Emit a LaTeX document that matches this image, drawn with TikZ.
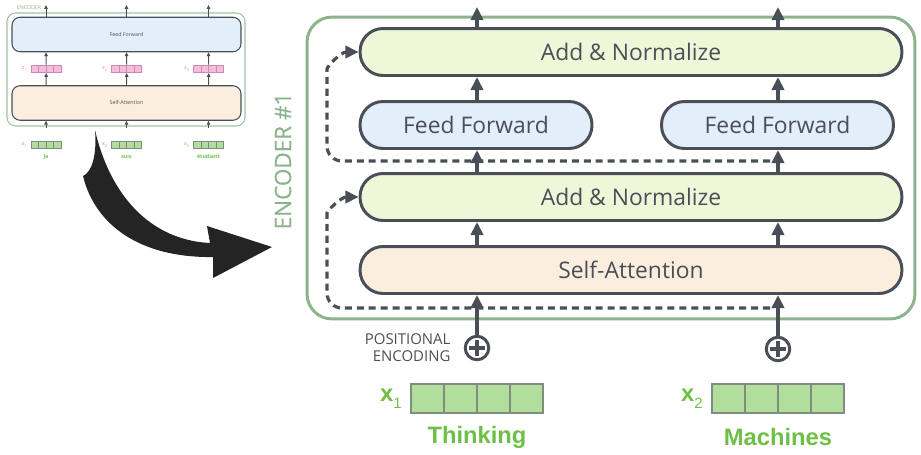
\documentclass[tikz,border=0pt]{standalone}
\usepackage{fontspec}
\setmainfont{Open Sans}
\newfontfamily\wordfont{Liberation Sans}
\usepackage{xcolor}
\usepackage{tikz}
\usetikzlibrary{arrows.meta}
\usetikzlibrary{positioning}
\definecolor{dark}{HTML}{4A4F57}
\definecolor{addfill}{HTML}{EEF8D9}
\definecolor{fffill}{HTML}{E3EEFB}
\definecolor{safill}{HTML}{FBEEDF}
\definecolor{encgreen}{HTML}{8DB38D}
\definecolor{wordgreen}{HTML}{6DBF46}
\definecolor{cellfill}{HTML}{B1DD9D}
\definecolor{cellline}{HTML}{7F8C7F}
\definecolor{zfill}{HTML}{F4BCDD}
\definecolor{zline}{HTML}{C98BB0}
\definecolor{zpink}{HTML}{E277B6}
\tikzset{
    block/.style = {align=center, inner sep=0pt, text centered, rectangle, draw=dark, text=dark},
    add_node/.style = {block, fill=addfill, line width=1.7pt, minimum width=10.84cm, minimum height=0.94cm, rounded corners=0.46cm, font=\fontsize{13}{15}\selectfont},
    ff_node/.style = {block, fill=fffill, line width=1.7pt, minimum width=4.64cm, minimum height=0.94cm, rounded corners=0.46cm, font=\fontsize{13}{15}\selectfont},
    sa_node/.style = {add_node, fill=safill},
    enc_box/.style = {rectangle, draw=encgreen, line width=1.7pt, rounded corners=0.5cm, minimum width=12.16cm, minimum height=6.04cm},
    enc_label/.style = {text=encgreen, inner sep=0pt, font=\fontsize{12.8}{14}\selectfont\addfontfeatures{FakeBold=0.4}},
    plus_node/.style = {circle, draw=dark, line width=1.7pt, minimum size=0.47cm, inner sep=0pt, fill=white,
        path picture={\draw[dark, line width=1.8pt] (path picture bounding box.center) ++(-0.16cm,0) -- ++(0.32cm,0)
            (path picture bounding box.center) ++(0,-0.16cm) -- ++(0,0.32cm);}},
    pos_label/.style = {align=right, inner sep=0pt, text=dark, font=\fontsize{8.5}{9.6}\selectfont},
    cell/.style = {rectangle, draw=cellline, fill=cellfill, line width=0.6pt, minimum width=0.66cm, minimum height=0.58cm, inner sep=0pt},
    vec_label/.style = {inner sep=0pt, text=wordgreen, font=\wordfont\fontsize{13.5}{15}\selectfont\bfseries},
    word_label/.style = {inner sep=0pt, text=wordgreen, font=\wordfont\fontsize{13.5}{15}\selectfont\bfseries},
    flow/.style = {->, draw=dark, line width=1.9pt},
    resid/.style = {->, draw=dark, line width=1.8pt, dash pattern=on 4pt off 2.8pt, rounded corners=0.3cm},
    t_box/.style = {block, line width=0.6pt, minimum width=4.58cm, minimum height=0.69cm, rounded corners=0.16cm, font=\fontsize{3}{3.6}\selectfont},
    t_enc/.style = {rectangle, draw=encgreen!80, line width=0.6pt, rounded corners=0.17cm, minimum width=4.76cm, minimum height=2.26cm},
    t_cell/.style = {rectangle, line width=0.3pt, minimum width=0.15cm, minimum height=0.15cm, inner sep=0pt},
    t_label/.style = {inner sep=0pt, font=\fontsize{3}{3.6}\selectfont},
    t_flow/.style = {-{Triangle[length=2.2pt,width=2pt]}, draw=dark, line width=0.55pt}
}

\begin{document}
\begin{tikzpicture}
    [x=0.02cm, y=-0.02cm, >={Triangle[length=7.5pt,width=7pt]}]

    \useasboundingbox (0,0) rectangle (921,454);

    % small encoder
    \node [t_enc] (tenc) at (126,69.5) {};
    \node [t_label, text=encgreen] (tenclab) at (29,8) {ENCODER};
    \node [t_box, fill=fffill] (tff) at (126.5,34.5) {Feed Forward};
    \node [t_box, fill=safill] (tsa) at (126.5,103) {Self-Attention};
    \foreach \c/\n/\w in {46/1/Je, 126.5/2/suis, 208.5/3/étudiant} {
        \foreach \i in {1,...,4}
            \node [t_cell, draw=zline, fill=zfill] (z\n-\i) at ({\c-15+7.5*\i-3.75},69) {};
        \foreach \i in {1,...,4}
            \node [t_cell, draw=cellline, fill=cellfill] (x\n-\i) at ({\c-15+7.5*\i-3.75},145) {};
        \node [t_label, text=zpink, left=0.06cm of z\n-1] (zl\n) {z\textsubscript{\n}};
        \node [t_label, text=wordgreen, left=0.06cm of x\n-1] (xl\n) {x\textsubscript{\n}};
        \node [t_label, text=wordgreen] (w\n) at (\c,157) {\textbf{\w}};
        \coordinate (tout\n) at (\c,5);
        \coordinate (tin\n) at (\c,128);
        \draw [t_flow] (tff.north -| tout\n) -- (tout\n);
        \draw [t_flow] (z\n-2.north east) -- (tff.south -| tout\n);
        \draw [t_flow] (tsa.north -| tout\n) -- (z\n-2.south east);
        \draw [t_flow] (tin\n) -- (tsa.south -| tin\n);
    }

    \fill [black!86] (95,130) .. controls (110,195) and (150,240) .. (210,243) -- (207,226) -- (272,247)
        -- (213,278) -- (213,257) .. controls (140,258) and (95,225) .. (83,176)
        .. controls (92,172) and (97,155) .. (95,130) -- cycle;

    % encoder #1
    \node [enc_box] (enc) at (611,168) {};
    \node [enc_label, rotate=90] (enclab) at (283,161) {ENCODER \#1};

    \node [add_node] (an2) at (631,52) {Add \& Normalize};
    \node [ff_node] (ff1) at (476,125) {Feed Forward};
    \node [ff_node] (ff2) at (777.5,125) {Feed Forward};
    \node [add_node] (an1) at (631,197) {Add \& Normalize};
    \node [sa_node] (sa) at (631,270) {Self-Attention};

    \node [plus_node] (p1) at (477,348) {};
    \node [plus_node] (p2) at (778,349) {};
    \node [pos_label, left=0.26cm of p1] (pe) {POSITIONAL\\ENCODING};

    \coordinate (r1) at (770,308);
    \coordinate (r2) at (770,161);
    \draw [resid] (r1) -- (327,308) -- (327,228) to[out=90, in=180] (an1.west);
    \draw [resid] (r2) -- (327,161) -- (327,84) to[out=90, in=180] (an2.west);

    \foreach \p/\n in {p1/1, p2/2} {
        \coordinate (out\n) at (\p |- 0,7);
        \draw [flow] (an2.north -| \p) -- (out\n);
        \draw [flow] (ff\n.north -| \p) -- (an2.south -| \p);
        \draw [flow] (an1.north -| \p) -- (ff\n.south -| \p);
        \draw [flow] (sa.north -| \p) -- (an1.south -| \p);
        \draw [flow] (\p.north) -- (sa.south -| \p);
    }

    \foreach \c/\n/\w in {477/1/Thinking, 778/2/Machines} {
        \foreach \i in {1,...,4}
            \node [cell] (in\n-\i) at ({\c-66+33*\i-16.5},398.5) {};
        \node [vec_label, left=0.17cm of in\n-1] (inl\n) {x\raisebox{-0.3em}{\fontsize{8.5}{9}\selectfont\mdseries\n}};
        \node [word_label] (word\n) at (\c,437) {\w};
    }
\end{tikzpicture}
\end{document}
